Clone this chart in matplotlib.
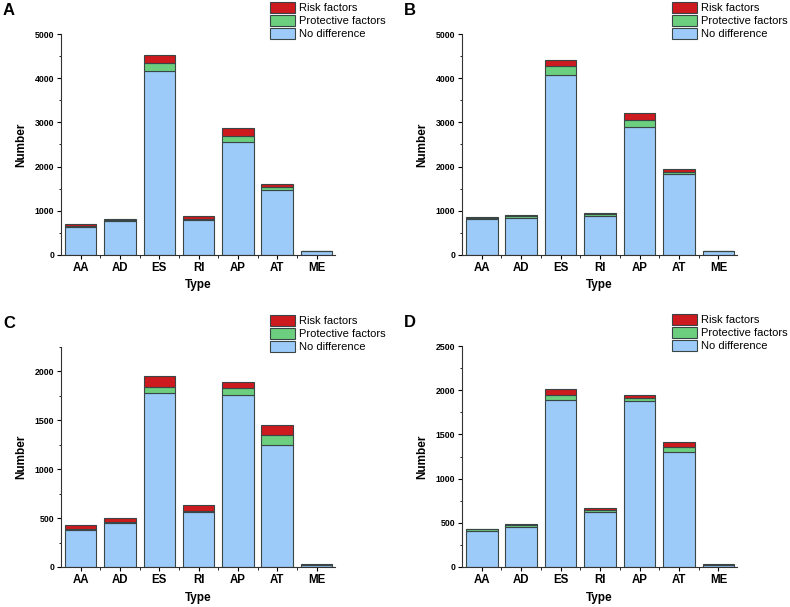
import matplotlib.pyplot as plt
import numpy as np
from matplotlib.ticker import MultipleLocator

plt.rcParams['font.family'] = ['Liberation Sans', 'DejaVu Sans']

###############################################################################
# Data
types = ["AA", "AD", "ES", "RI", "AP", "AT", "ME"]

a_nodiff = [640, 760, 4170, 795, 2565, 1470, 80]
a_protect = [15, 30, 165, 10, 135, 70, 5]
a_risk = [55, 25, 190, 75, 165, 60, 5]

b_nodiff = [810, 835, 4065, 890, 2900, 1825, 85]
b_protect = [35, 55, 200, 40, 150, 60, 5]
b_risk = [10, 25, 145, 15, 155, 60, 5]

c_nodiff = [375, 445, 1780, 562, 1760, 1250, 22]
c_protect = [15, 15, 62, 10, 70, 105, 3]
c_risk = [40, 40, 112, 57, 60, 100, 2]

d_nodiff = [410, 455, 1885, 620, 1875, 1297, 25]
d_protect = [15, 20, 65, 30, 35, 57, 3]
d_risk = [8, 10, 67, 15, 40, 56, 2]

panel_letters = ["A", "B", "C", "D"]
panel_ymax = [5000, 5000, 2250, 2500]
panel_ystep = [1000, 1000, 500, 500]

###############################################################################
# Styling
c_blue = "#9DCBF9"
c_green = "#6CCF80"
c_red = "#CC1A1E"
edge = "#3A4646"

fig = plt.figure(figsize=(7.9, 6.07), dpi=100)

# axes rectangles in pixels (left, top, right, bottom)
boxes = [(61, 34, 335, 255), (462, 34, 737, 255),
         (61, 347, 335, 567), (462, 346, 737, 567)]
W, H = 790, 607

data = [(a_nodiff, a_protect, a_risk), (b_nodiff, b_protect, b_risk),
        (c_nodiff, c_protect, c_risk), (d_nodiff, d_protect, d_risk)]

x = np.arange(len(types))
for i, (nd, pr, rk) in enumerate(data):
    l, t, r, b = boxes[i]
    ax = fig.add_axes([l / W, 1 - b / H, (r - l) / W, (b - t) / H])
    nd = np.array(nd)
    pr = np.array(pr)
    rk = np.array(rk)
    h1 = ax.bar(x, nd, 0.8, color=c_blue, edgecolor=edge, linewidth=0.8,
                label="No difference")
    h2 = ax.bar(x, pr, 0.8, bottom=nd, color=c_green, edgecolor=edge,
                linewidth=0.8, label="Protective factors")
    h3 = ax.bar(x, rk, 0.8, bottom=nd + pr, color=c_red, edgecolor=edge,
                linewidth=0.8, label="Risk factors")

    ax.set_xlim(-0.5, 6.47)
    ax.set_ylim(0, panel_ymax[i])
    ax.yaxis.set_major_locator(MultipleLocator(panel_ystep[i]))
    ax.yaxis.set_minor_locator(MultipleLocator(panel_ystep[i] / 2))
    ax.set_xticks(x)
    ax.set_xticks(x[:-1] + 0.5, minor=True)
    ax.set_xticklabels(types, fontsize=8.3, fontweight="bold")
    for lab in ax.get_yticklabels():
        lab.set_fontsize(6.3)
        lab.set_fontweight("bold")
    ax.tick_params(axis="both", which="major", direction="out", length=3,
                   width=0.8, pad=2)
    ax.tick_params(axis="both", which="minor", direction="out", length=1.8,
                   width=0.6)
    for s in ("top", "right"):
        ax.spines[s].set_visible(False)
    for s in ("left", "bottom"):
        ax.spines[s].set_linewidth(0.8)
        ax.spines[s].set_color("#333333")

    ax.set_xlabel("Type", fontsize=8.5, fontweight="bold", labelpad=4)
    ax.set_ylabel("Number", fontsize=8.5, fontweight="bold", labelpad=5)

    # legend sits above the top-right corner of the axes
    leg_top = 1 + 32 / (b - t)
    ax.legend([h3, h2, h1],
              ["Risk factors", "Protective factors", "No difference"],
              loc="upper left", bbox_to_anchor=(0.763, leg_top),
              fontsize=8, frameon=False, handlelength=2.25,
              handleheight=1.1, handletextpad=0.35, labelspacing=0.18,
              borderaxespad=0, borderpad=0)

    fig.text((l - 58) / W, 1 - (t - 31) / H, panel_letters[i],
             fontsize=12, fontweight="bold", ha="left", va="top")

fig.savefig("out.png", dpi=100)
